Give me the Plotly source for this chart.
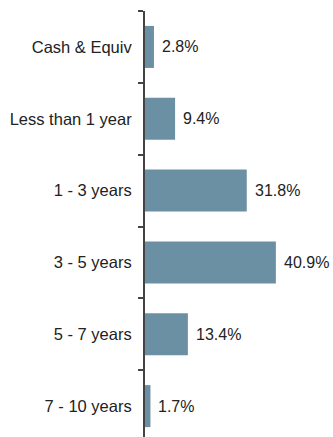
import plotly.graph_objects as go

categories = ["Cash & Equiv", "Less than 1 year", "1 - 3 years", "3 - 5 years", "5 - 7 years", "7 - 10 years"]
values = [2.8, 9.4, 31.8, 40.9, 13.4, 1.7]
value_labels = ["2.8%", "9.4%", "31.8%", "40.9%", "13.4%", "1.7%"]

FONT = "Liberation Sans, Arial, sans-serif"
fig = go.Figure()
fig.add_trace(go.Bar(
    y=categories, x=values, orientation="h",
    marker=dict(color="#6c90a3", line=dict(width=0)),
    hoverinfo="skip",
))
for c, v, t in zip(categories, values, value_labels):
    fig.add_annotation(x=v, y=c, text=t, showarrow=False, xanchor="left",
                       xshift=6, font=dict(family=FONT, size=16, color="#222222"))

fig.update_layout(
    width=333, height=437,
    margin=dict(l=145, r=0, t=11, b=0),
    paper_bgcolor="white", plot_bgcolor="white",
    bargap=0.415, showlegend=False,
    font=dict(family=FONT, size=16.5, color="#222222"),
)
fig.update_xaxes(range=[0, 58.75], visible=False, showgrid=False, zeroline=False)
fig.update_yaxes(
    type="category", categoryorder="array", categoryarray=categories,
    range=[5.43, -0.5], showline=True, linecolor="#444444", linewidth=2,
    ticks="outside", tickson="boundaries", ticklen=5, tickcolor="#444444", tickwidth=2,
    ticklabelstandoff=8, showgrid=False, zeroline=False,
)
fig.write_html("out.html")
